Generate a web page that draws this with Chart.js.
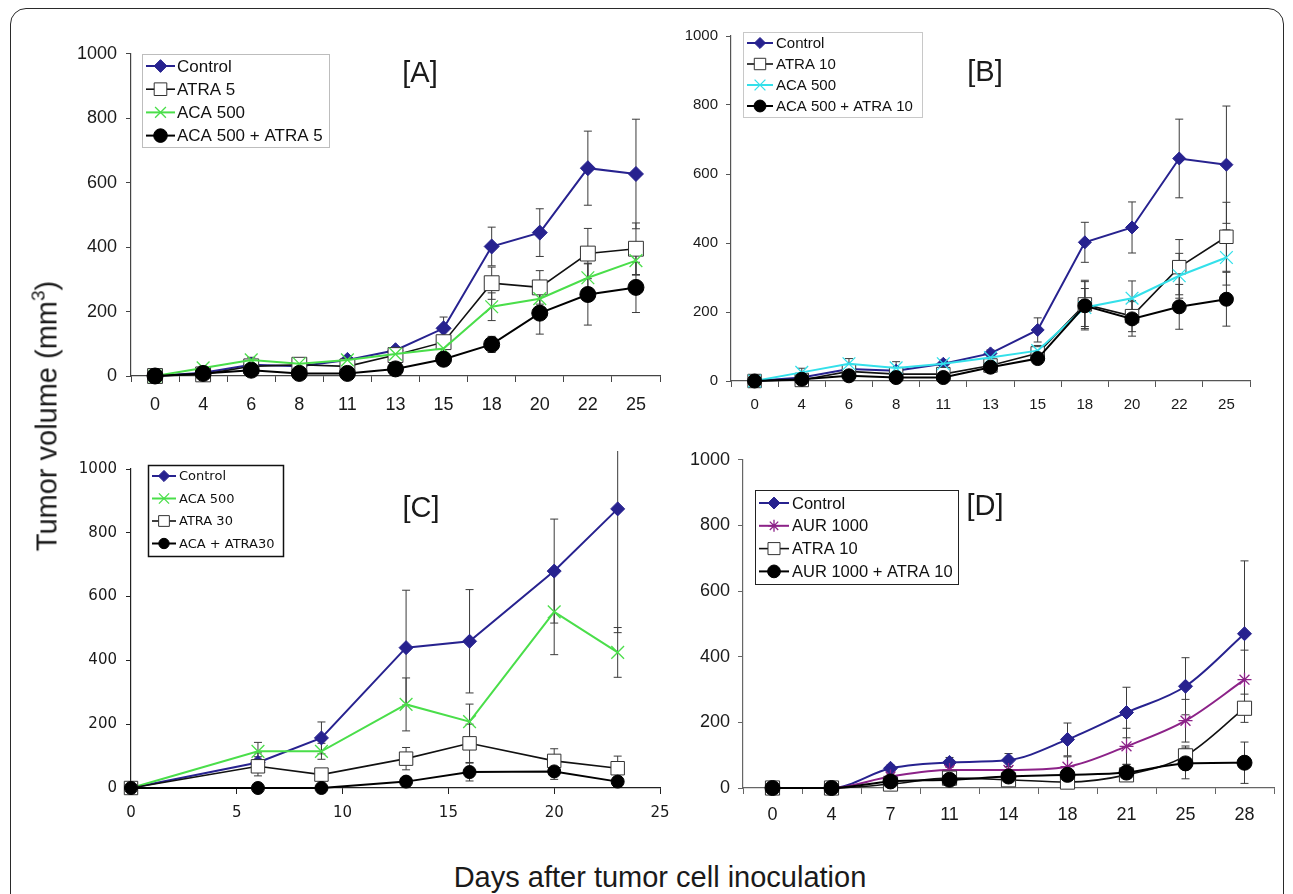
<!DOCTYPE html>
<html>
<head>
<meta charset="utf-8">
<script src="https://cdn.jsdelivr.net/npm/chart.js@4.4.1/dist/chart.umd.min.js"></script>
<style>
  body { margin: 0; background: #fff; width: 1293px; height: 894px; overflow: hidden; position: relative;
         font-family: "Liberation Sans", Arial, sans-serif; color: #1a1a1a; }
  #frame { position: absolute; left: 10px; top: 8px; width: 1272px; height: 940px;
           border: 1.5px solid #2a2a2a; border-radius: 16px; }
  canvas { position: absolute; }
  .tag { position: absolute; font-size: 29px; transform: translate(-50%, -50%); white-space: nowrap; }
  #ytitle { position: absolute; left: 47px; top: 416px; font-size: 29px; white-space: nowrap;
            transform: translate(-50%, -50%) rotate(-90deg); }
  #ytitle sup { font-size: 19px; vertical-align: 12px; line-height: 0; }
  #xtitle { position: absolute; left: 660px; top: 877px; font-size: 29px; white-space: nowrap;
            transform: translate(-50%, -50%); }
</style>
</head>
<body>
<div id="frame"></div>
<canvas id="chartA"></canvas>
<canvas id="chartB"></canvas>
<canvas id="chartC"></canvas>
<canvas id="chartD"></canvas>
<div class="tag" style="left:420px;top:72px">[A]</div>
<div class="tag" style="left:985px;top:71px">[B]</div>
<div class="tag" style="left:421px;top:507px">[C]</div>
<div class="tag" style="left:985px;top:505px">[D]</div>
<div id="ytitle">Tumor volume (mm<sup>3</sup>)</div>
<div id="xtitle">Days after tumor cell inoculation</div>

<script>
// x categories / days
const daysAB = ["0", "4", "6", "8", "11", "13", "15", "18", "20", "22", "25"];
const daysC = [0, 6, 9, 13, 16, 20, 23];
const daysD = ["0", "4", "7", "11", "14", "18", "21", "25", "28"];
const yTicks = [0, 200, 400, 600, 800, 1000];
const xTicksC = [0, 5, 10, 15, 20, 25];

// Panel A
const ctrlA = [0, 10, 35, 30, 50, 80, 148, 402, 445, 645, 627];
const ctrlAErr = [0, 3, 8, 6, 10, 10, 35, 60, 74, 115, 170];
const atra5A = [0, 5, 30, 35, 30, 65, 105, 288, 275, 380, 395];
const atra5AErr = [0, 3, 6, 6, 6, 8, 15, 50, 52, 78, 80];
const aca500A = [0, 25, 50, 38, 50, 68, 85, 215, 240, 305, 358];
const aca500AErr = [0, 5, 8, 8, 8, 8, 12, 43, 40, 45, 45];
const comboA = [0, 8, 18, 8, 8, 22, 52, 98, 195, 253, 275];
const comboAErr = [0, 3, 4, 3, 3, 5, 8, 25, 65, 95, 78];

// Panel B
const ctrlB = [0, 10, 35, 30, 50, 80, 148, 402, 445, 645, 627];
const ctrlBErr = [0, 3, 8, 6, 10, 10, 35, 58, 74, 114, 170];
const atra10B = [0, 3, 28, 20, 20, 45, 80, 222, 188, 330, 418];
const atra10BErr = [0, 3, 6, 5, 5, 8, 15, 70, 45, 80, 100];
const aca500B = [0, 25, 50, 38, 50, 68, 88, 213, 240, 305, 358];
const aca500BErr = [0, 12, 15, 18, 10, 10, 15, 55, 50, 65, 80];
const comboB = [0, 5, 15, 10, 10, 40, 65, 218, 180, 215, 237];
const comboBErr = [0, 3, 4, 3, 3, 6, 10, 70, 50, 65, 78];

// Panel C
const ctrlC = [0, 80, 157, 440, 460, 680, 875];
const ctrlCErr = [0, 30, 50, 180, 162, 163, 388];
const aca500C = [0, 115, 115, 262, 208, 552, 425];
const aca500CErr = [0, 28, 25, 83, 55, 134, 78];
const atra30C = [0, 68, 42, 92, 140, 85, 62];
const atra30CErr = [0, 30, 12, 35, 60, 38, 38];
const comboC = [0, 0, 0, 20, 50, 52, 20];
const comboCErr = [0, 0, 0, 15, 28, 25, 10];

// Panel D
const ctrlD = [0, 0, 60, 78, 85, 148, 230, 310, 470];
const ctrlDErr = [0, 0, 10, 15, 20, 50, 77, 87, 222];
const aur1000D = [0, 0, 35, 55, 55, 65, 127, 205, 330];
const aur1000DErr = [0, 0, 8, 10, 10, 30, 55, 65, 90];
const atra10D = [0, 0, 12, 30, 25, 18, 40, 98, 243];
const atra10DErr = [0, 0, 5, 8, 8, 10, 15, 30, 43];
const comboD = [0, 0, 20, 25, 35, 40, 47, 75, 77];
const comboDErr = [0, 0, 6, 8, 8, 15, 25, 47, 63];

const NAVY = "#27228f";

function ctrlStyle(r) {
  return { borderColor: NAVY, backgroundColor: NAVY, borderWidth: 2, pointStyle: "rectRot",
           pointRadius: r, pointBackgroundColor: NAVY, pointBorderColor: NAVY, pointBorderWidth: 1 };
}
function squareStyle(r) {
  return { borderColor: "#111", backgroundColor: "#fff", borderWidth: 1.6, pointStyle: "rect",
           pointRadius: r, pointBackgroundColor: "#fff", pointBorderColor: "#333", pointBorderWidth: 1 };
}
function crossStyle(color, r) {
  return { borderColor: color, backgroundColor: color, borderWidth: 2, pointStyle: "crossRot",
           pointRadius: r, pointBackgroundColor: color, pointBorderColor: color, pointBorderWidth: 1.3 };
}
function starStyle(color, r) {
  return { borderColor: color, backgroundColor: color, borderWidth: 2, pointStyle: "star",
           pointRadius: r, pointBackgroundColor: color, pointBorderColor: color, pointBorderWidth: 1.3 };
}
function dotStyle(r) {
  return { borderColor: "#000", backgroundColor: "#000", borderWidth: 2, pointStyle: "circle",
           pointRadius: r, pointBackgroundColor: "#000", pointBorderColor: "#000", pointBorderWidth: 1 };
}

// error bars drawn through the chart's own scales
const errorBars = {
  id: "errorBars",
  beforeDatasetsDraw(chart) {
    const ctx = chart.ctx;
    const yScale = chart.scales.y;
    ctx.save();
    ctx.strokeStyle = "#3b3b3b";
    ctx.lineWidth = 1;
    chart.data.datasets.forEach((ds, i) => {
      if (!ds.errors) return;
      const meta = chart.getDatasetMeta(i);
      meta.data.forEach((pt, j) => {
        const e = ds.errors[j];
        if (!e) return;
        const d = ds.data[j];
        const v = typeof d === "object" ? d.y : d;
        const top = yScale.getPixelForValue(v + e);
        const bot = yScale.getPixelForValue(Math.max(v - e, 0));
        ctx.beginPath();
        ctx.moveTo(pt.x, top);
        ctx.lineTo(pt.x, bot);
        ctx.moveTo(pt.x - 4, top);
        ctx.lineTo(pt.x + 4, top);
        ctx.moveTo(pt.x - 4, bot);
        ctx.lineTo(pt.x + 4, bot);
        ctx.stroke();
      });
    });
    ctx.restore();
  }
};

// boxed legend with line + marker like the original
const boxLegend = {
  id: "boxLegend",
  afterDraw(chart, args, o) {
    const ctx = chart.ctx;
    ctx.save();
    ctx.fillStyle = "#fff";
    ctx.fillRect(o.x, o.y, o.w, o.h);
    ctx.strokeStyle = o.border;
    ctx.lineWidth = o.borderWidth;
    ctx.strokeRect(o.x + 0.5, o.y + 0.5, o.w, o.h);
    chart.data.datasets.forEach((ds, i) => {
      const cy = o.y + o.first + i * o.rowH;
      const x0 = o.x + o.pad;
      ctx.strokeStyle = ds.borderColor;
      ctx.lineWidth = ds.borderWidth;
      ctx.beginPath();
      ctx.moveTo(x0, cy);
      ctx.lineTo(x0 + o.lineW, cy);
      ctx.stroke();
      ctx.fillStyle = ds.pointBackgroundColor;
      ctx.strokeStyle = ds.pointBorderColor;
      ctx.lineWidth = ds.pointBorderWidth;
      Chart.helpers.drawPoint(ctx, { pointStyle: ds.pointStyle, rotation: 0,
        radius: ds.pointRadius * o.markerScale, borderWidth: ds.pointBorderWidth }, x0 + o.lineW / 2, cy);
      ctx.fillStyle = "#111";
      ctx.font = o.font;
      ctx.textBaseline = "middle";
      ctx.fillText(ds.label, x0 + o.lineW + o.gap, cy + 1);
    });
    ctx.restore();
  }
};

const Y_W = 70, X_H = 45, PAD_T = 14;

function makePanel(id, box, xCfg, datasets, font, axisColor, legend) {
  const cv = document.getElementById(id);
  cv.width = box.w; cv.height = box.h;
  cv.style.left = box.l + "px"; cv.style.top = box.t + "px";
  cv.style.width = box.w + "px"; cv.style.height = box.h + "px";
  legend.x -= box.l; legend.y -= box.t;
  const tickFont = { family: font.family, size: font.size };
  // later series are painted on top, as in the original
  datasets.forEach((ds, i) => { ds.order = datasets.length - i; ds.clip = false; });
  new Chart(cv.getContext("2d"), {
    type: "line",
    data: { labels: xCfg.labels, datasets: datasets },
    options: {
      responsive: false,
      animation: false,
      events: [],
      layout: { padding: { top: PAD_T, right: box.padR, left: 0, bottom: 0 } },
      plugins: { legend: { display: false }, tooltip: { enabled: false }, boxLegend: legend },
      scales: {
        x: Object.assign({
          border: { color: axisColor, width: 1.2 },
          ticks: { color: "#1a1a1a", font: tickFont, padding: font.xPad, maxRotation: 0, autoSkip: false,
                   callback: xCfg.tickText },
          afterFit(s) { s.height = X_H; }
        }, xCfg.scale),
        y: {
          min: 0, max: 1000,
          afterBuildTicks(s) { s.ticks = yTicks.map(v => ({ value: v })); },
          grid: { drawOnChartArea: false, tickLength: 5, color: axisColor },
          border: { color: axisColor, width: 1.2 },
          ticks: { color: "#1a1a1a", font: tickFont, padding: font.yPad, callback: v => String(v) },
          afterFit(s) { s.width = Y_W; }
        }
      }
    },
    plugins: [errorBars, boxLegend]
  });
}

function catAxis(color) {
  return { type: "category", offset: true,
           grid: { offset: true, drawOnChartArea: false, tickLength: 6, color: color } };
}
const catText = function (v) { return this.getLabelForValue(v); };

// [A]
makePanel("chartA", { l: 61, t: 34, w: 619, h: 387, padR: 20 },
  { labels: daysAB, scale: catAxis("#444"), tickText: catText },
  [
    Object.assign({ label: "Control", data: ctrlA, errors: ctrlAErr, tension: 0 }, ctrlStyle(7.5)),
    Object.assign({ label: "ATRA 5", data: atra5A, errors: atra5AErr, tension: 0 }, squareStyle(10.5)),
    Object.assign({ label: "ACA 500", data: aca500A, errors: aca500AErr, tension: 0 }, crossStyle("#4ade4a", 9)),
    Object.assign({ label: "ACA 500 + ATRA 5", data: comboA, errors: comboAErr, tension: 0 }, dotStyle(8))
  ],
  { family: "'Liberation Sans', Arial, sans-serif", size: 18, xPad: 12, yPad: 9 }, "#444",
  { x: 142, y: 54, w: 187, h: 93, first: 12, rowH: 23.2, pad: 4, lineW: 29, gap: 2,
    font: "17px 'Liberation Sans', Arial, sans-serif", border: "#bdbdbd", borderWidth: 1, markerScale: 0.85 });

// [B]
makePanel("chartB", { l: 661, t: 19, w: 609, h: 407, padR: 20 },
  { labels: daysAB, scale: catAxis("#555"), tickText: catText },
  [
    Object.assign({ label: "Control", data: ctrlB, errors: ctrlBErr, tension: 0 }, ctrlStyle(6.5)),
    Object.assign({ label: "ATRA 10", data: atra10B, errors: atra10BErr, tension: 0 }, squareStyle(9.5)),
    Object.assign({ label: "ACA 500", data: aca500B, errors: aca500BErr, tension: 0 }, crossStyle("#33e0ea", 9)),
    Object.assign({ label: "ACA 500 + ATRA 10", data: comboB, errors: comboBErr, tension: 0 }, dotStyle(7))
  ],
  { family: "'Liberation Sans', Arial, sans-serif", size: 15, xPad: 9, yPad: 8 }, "#555",
  { x: 743, y: 32, w: 179, h: 85, first: 11, rowH: 21, pad: 4, lineW: 26, gap: 3,
    font: "15px 'Liberation Sans', Arial, sans-serif", border: "#c8c8c8", borderWidth: 1, markerScale: 0.85 });

// [C] (numeric day axis)
const xyC = vals => daysC.map((d, i) => ({ x: d, y: vals[i] }));
makePanel("chartC", { l: 61, t: 451, w: 619, h: 382, padR: 20 },
  { labels: undefined, tickText: v => String(v), scale: { type: "linear", min: 0, max: 25,
      afterBuildTicks(s) { s.ticks = xTicksC.map(v => ({ value: v })); },
      grid: { drawOnChartArea: false, tickLength: 6, color: "#222" } } },
  [
    Object.assign({ label: "Control", data: xyC(ctrlC), errors: ctrlCErr, tension: 0 }, ctrlStyle(7)),
    Object.assign({ label: "ACA 500", data: xyC(aca500C), errors: aca500CErr, tension: 0 }, crossStyle("#4ade4a", 9)),
    Object.assign({ label: "ATRA 30", data: xyC(atra30C), errors: atra30CErr, tension: 0 }, squareStyle(9.5)),
    Object.assign({ label: "ACA + ATRA30", data: xyC(comboC), errors: comboCErr, tension: 0 }, dotStyle(6.5))
  ],
  { family: "'DejaVu Sans', Verdana, sans-serif", size: 15, xPad: 10, yPad: 9 }, "#222",
  { x: 148, y: 465, w: 135, h: 91, first: 11, rowH: 22.5, pad: 4, lineW: 24, gap: 3,
    font: "13px 'DejaVu Sans', Verdana, sans-serif", border: "#111", borderWidth: 1.5, markerScale: 0.8 });

// [D]
makePanel("chartD", { l: 673, t: 441, w: 616, h: 392, padR: 15 },
  { labels: daysD, scale: catAxis("#666"), tickText: catText },
  [
    Object.assign({ label: "Control", data: ctrlD, errors: ctrlDErr, cubicInterpolationMode: "monotone" }, ctrlStyle(7)),
    Object.assign({ label: "AUR 1000", data: aur1000D, errors: aur1000DErr, cubicInterpolationMode: "monotone" }, starStyle("#8c2288", 7)),
    Object.assign({ label: "ATRA 10", data: atra10D, errors: atra10DErr, cubicInterpolationMode: "monotone" }, squareStyle(10)),
    Object.assign({ label: "AUR 1000 + ATRA 10", data: comboD, errors: comboDErr, cubicInterpolationMode: "monotone" }, dotStyle(7.5))
  ],
  { family: "'Liberation Sans', Arial, sans-serif", size: 18, xPad: 10, yPad: 8 }, "#666",
  { x: 755, y: 490, w: 203, h: 94, first: 13, rowH: 22.8, pad: 4, lineW: 30, gap: 3,
    font: "16.5px 'Liberation Sans', Arial, sans-serif", border: "#222", borderWidth: 1, markerScale: 0.85 });
</script>
</body>
</html>
